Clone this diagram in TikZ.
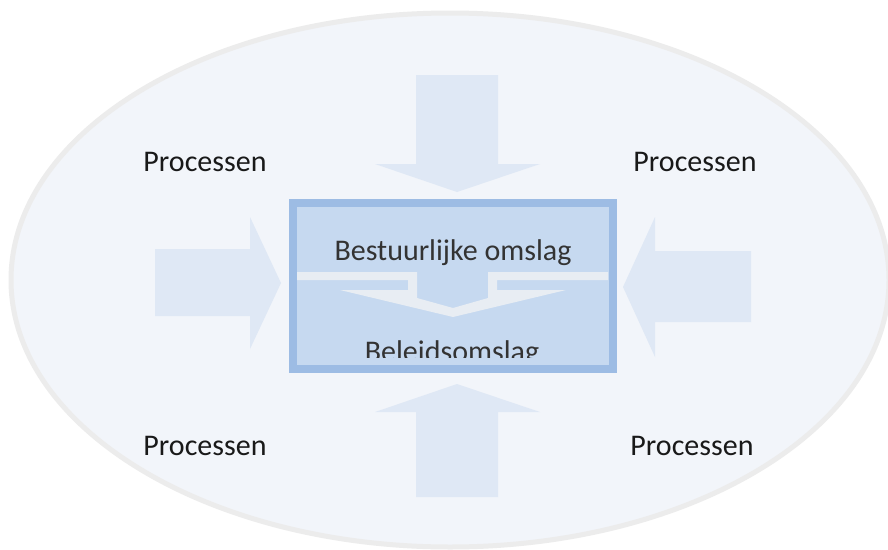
\documentclass[tikz,border=0pt]{standalone}
\usepackage{fontspec}
\setmainfont{Carlito}
\usepackage{tikz}
\usetikzlibrary{positioning,calc}
\usepackage{xcolor}
\definecolor{ovaal}{HTML}{F2F5FA}
\definecolor{ovaalrand}{HTML}{ECECEC}
\definecolor{pijl}{HTML}{DFE8F5}
\definecolor{kader}{HTML}{C6D9F0}
\definecolor{kaderrand}{HTML}{9DBCE4}
\definecolor{band}{HTML}{E8EDF3}

\begin{document}
\begin{tikzpicture}[
        x=1pt, y=-1pt,
        every node/.style={font=\fontsize{30}{36}\selectfont, inner sep=0pt},
        proces/.style={anchor=base, text=black!90},
        blokpijl/.style={fill=pijl, draw=none}
    ]
    \useasboundingbox (0,0) rectangle (888,549);
    \fill[white] (0,0) rectangle (888,549);
    \draw[fill=ovaal, draw=ovaalrand, line width=5pt] (450,280) ellipse [x radius=439, y radius=267];

    % blokpijlen
    \fill[blokpijl] (416,75) -- (498,75) -- (498,164) -- (540,164) -- (457,192) -- (375,164) -- (416,164) -- cycle;
    \fill[blokpijl] (416,497) -- (498,497) -- (498,412) -- (540,412) -- (457,384) -- (375,412) -- (416,412) -- cycle;
    \fill[blokpijl] (155,249) -- (250,249) -- (250,217) -- (281,283) -- (250,349) -- (250,316) -- (155,316) -- cycle;
    \fill[blokpijl] (751,251) -- (655,251) -- (655,217) -- (623,287) -- (655,357) -- (655,322) -- (751,322) -- cycle;

    \node[proces] (proc1) at (205,171) {Processen};
    \node[proces] (proc2) at (695,171) {Processen};
    \node[proces] (proc3) at (205,455) {Processen};
    \node[proces] (proc4) at (692,455) {Processen};

    % middenkader
    \draw[fill=kader, draw=kaderrand, line width=8pt] (293,203) rectangle (612.5,369);
    \fill[band] (297,272) -- (417,272) -- (417,298) -- (453,308) -- (488,298) -- (488,272) -- (608,272)
        -- (608,280) -- (497,280) -- (497,290) -- (566,290) -- (453,317) -- (340,290) -- (408,290)
        -- (408,280) -- (297,280) -- cycle;
    \node[anchor=base, text=black!80] (bestuur) at (453,260) {Bestuurlijke omslag};
    \begin{scope}
        \clip (297,207) rectangle (608,357);
        \node[anchor=base, text=black!80] (beleid) at (452,361) {Beleidsomslag};
    \end{scope}
\end{tikzpicture}
\end{document}
